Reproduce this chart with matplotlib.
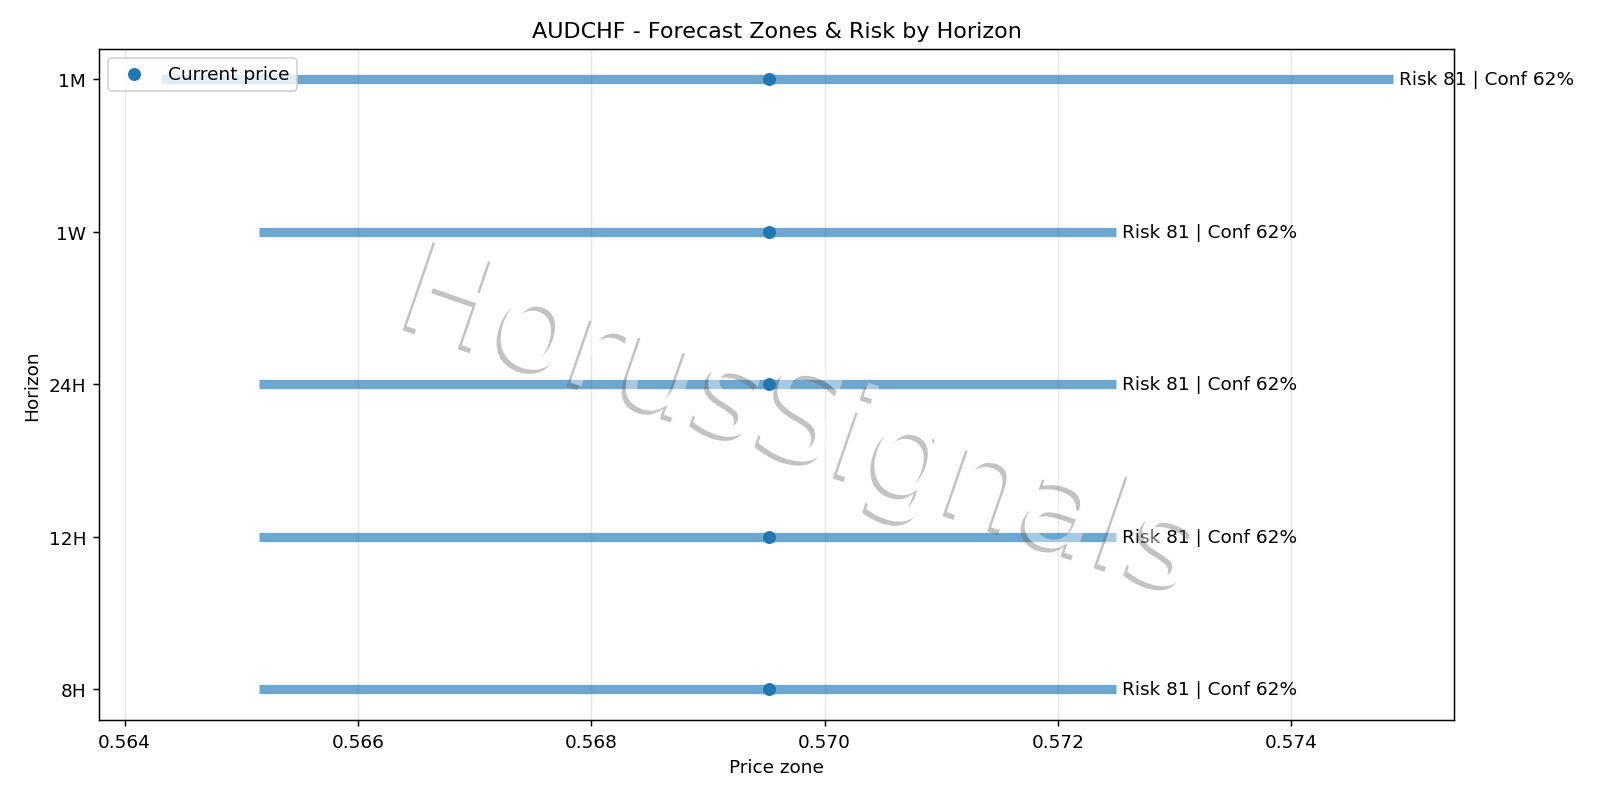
import matplotlib
matplotlib.use("Agg")
import matplotlib.pyplot as plt
import matplotlib.patheffects as pe

# Forecast zones per horizon
horizons = ["8H", "12H", "24H", "1W", "1M"]
zone_low = [0.56515, 0.56515, 0.56515, 0.56515, 0.56431]
zone_high = [0.57250, 0.57250, 0.57250, 0.57250, 0.57487]
current_price = 0.56952
risk_scores = [81, 81, 81, 81, 81]
confidence = [62, 62, 62, 62, 62]


def fade(im, dpi):
    """Apply one alpha to the whole watermark (text + shadow)"""
    im = im.copy()
    im[..., 3] *= 0.4
    return im, 0, 0


fig, ax = plt.subplots(figsize=(12, 6), dpi=133.33)
fig.subplots_adjust(left=0.062, right=0.909, bottom=0.099, top=0.938)

y_pos = list(range(len(horizons)))

ax.hlines(y_pos, zone_low, zone_high, color="tab:blue", linewidth=5, alpha=0.65)
ax.scatter([current_price] * len(horizons), y_pos, color="tab:blue",
           zorder=3, label="Current price")

for y, hi, r, c in zip(y_pos, zone_high, risk_scores, confidence):
    ax.text(hi + 0.00005, y, f"Risk {r} | Conf {c}%", va="center", ha="left",
            fontsize=10, clip_on=False)

ax.set_yticks(y_pos)
ax.set_yticklabels(horizons)
ax.set_xlabel("Price zone")
ax.set_ylabel("Horizon")
ax.set_title("AUDCHF - Forecast Zones & Risk by Horizon")
ax.grid(True, axis="x", alpha=0.3)
ax.legend(loc="upper left")

# Watermark
wm = fig.text(0.5, 0.468, "HorusSignals", fontsize=69, color="white",
              rotation=-19, ha="center", va="center", zorder=10,
              path_effects=[pe.SimplePatchShadow(offset=(-2.2, -2.2),
                                                 shadow_rgbFace=(0.42, 0.42, 0.42),
                                                 alpha=1.0),
                            pe.Normal()])
wm.set_agg_filter(fade)

plt.savefig("out.png", dpi=133.33)
plt.close()
